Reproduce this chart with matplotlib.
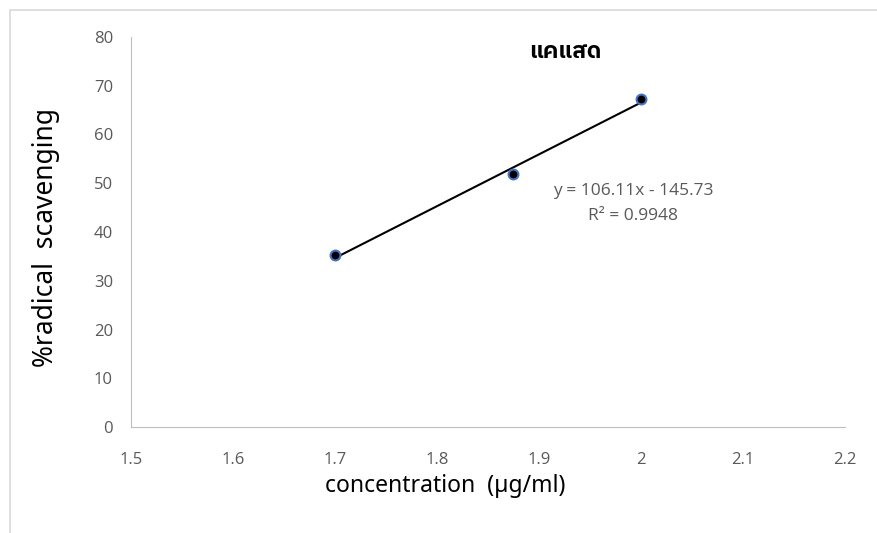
import matplotlib
matplotlib.use("Agg")
import matplotlib.pyplot as plt
import numpy as np

conc = [1.7, 1.875, 2.0]
scav = [35.2, 52.0, 67.3]
title = "แคแสด"
x_ticks = [1.5, 1.6, 1.7, 1.8, 1.9, 2.0, 2.1, 2.2]
x_ticklabels = ["1.5", "1.6", "1.7", "1.8", "1.9", "2", "2.1", "2.2"]
y_ticks = [0, 10, 20, 30, 40, 50, 60, 70, 80]

fig = plt.figure(figsize=(8.77, 5.33), dpi=100)
ax = fig.add_axes([131 / 877, 1 - 427 / 533, 714 / 877, 390 / 533])

# linear trendline over the data range
slope, icpt = np.polyfit(conc, scav, 1)
xs = np.array([min(conc), max(conc)])
ax.plot(xs, slope * xs + icpt, color="black", lw=1.5, zorder=2)
ax.scatter(conc, scav, s=50, color="black", edgecolor="#4472C4", lw=1.5, zorder=3)

ax.set_xlim(1.5, 2.2)
ax.set_ylim(0, 80)
ax.set_xticks(x_ticks)
ax.set_xticklabels(x_ticklabels)
ax.set_yticks(y_ticks)
for s in ["top", "right"]:
    ax.spines[s].set_visible(False)
for s in ["left", "bottom"]:
    ax.spines[s].set_color("#BFBFBF")
ax.tick_params(length=0, labelsize=12, labelcolor="#595959")
ax.tick_params(axis="x", pad=18)
ax.tick_params(axis="y", pad=13)
for lab in ax.get_xticklabels() + ax.get_yticklabels():
    lab.set_family("Open Sans")

ax.set_xlabel("concentration  (µg/ml)", fontsize=16.5, family="Noto Sans")
ax.xaxis.set_label_coords(0.44, -0.12)
ax.set_ylabel("%radical  scavenging", fontsize=19, family="Noto Sans")
ax.yaxis.set_label_coords(-0.1, 0.487)

ax.text(0.608, 0.962, title, transform=ax.transAxes, ha="center", va="center",
        fontsize=16.5, fontweight="bold", family=["IBM Plex Sans Thai", "DejaVu Sans"])

ax.text(0.703, 0.572, "y = 106.11x - 145.73\nR² = 0.9948", transform=ax.transAxes,
        ha="center", va="center", fontsize=12.5, color="#595959", family="Open Sans",
        linespacing=1.75)

# chart area border (only top and left edges visible in the crop)
fig.add_artist(plt.Rectangle((10 / 877, -0.1), 1.2, 1 - 10 / 533 + 0.1, transform=fig.transFigure,
                             fill=False, edgecolor="#D9D9D9", lw=1.2))

fig.savefig("out.png", dpi=100)
